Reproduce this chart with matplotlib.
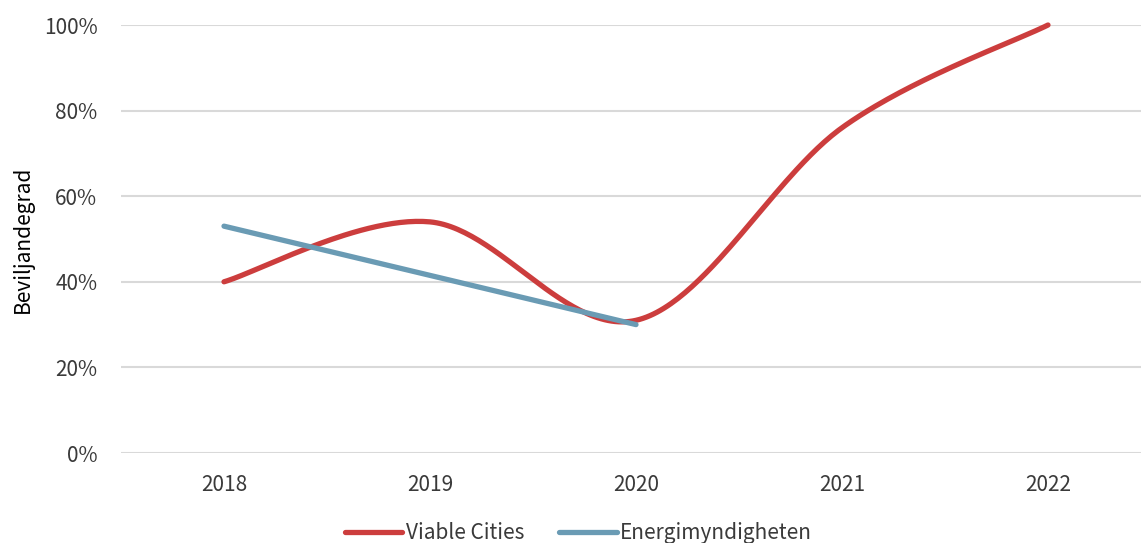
import numpy as np
import matplotlib.pyplot as plt
from matplotlib.ticker import PercentFormatter

plt.rcParams.update({
    "font.family": ["Noto Sans CJK JP", "DejaVu Sans"],
    "font.size": 15,
    "text.color": "#3A3A3A",
    "xtick.color": "#3A3A3A",
    "ytick.color": "#3A3A3A",
})

years = ["2018", "2019", "2020", "2021", "2022"]
viable_cities = [40, 54, 31, 76, 100]
energimyndigheten = [53, 41.5, 30]

red  = "#CC3D3D"
blue = "#6A9BB4"
lw   = 3.8


def smooth(xs, ys, n=60):
    """Excel-style smoothed line: Catmull-Rom Bezier through the points."""
    p = np.column_stack([xs, ys]).astype(float)
    ext = np.vstack([p[0], p, p[-1]])
    t = np.linspace(0, 1, n)[:, None]
    out = []
    for i in range(len(p) - 1):
        p0, p1, p2, p3 = ext[i], ext[i + 1], ext[i + 2], ext[i + 3]
        c1 = p1 + (p2 - p0) / 6
        c2 = p2 - (p3 - p1) / 6
        seg = ((1 - t) ** 3) * p1 + 3 * ((1 - t) ** 2) * t * c1 + 3 * (1 - t) * t ** 2 * c2 + t ** 3 * p2
        out.append(seg if i == 0 else seg[1:])
    out = np.vstack(out)
    return out[:, 0], out[:, 1]


fig = plt.figure(figsize=(11.41, 5.43), dpi=100)
ax = fig.add_axes([121 / 1141, 1 - 453 / 543, 1 - 121 / 1141, (453 - 25) / 543])

x_vc, y_vc = smooth(np.arange(len(viable_cities)), viable_cities)
x_em, y_em = smooth(np.arange(len(energimyndigheten)), energimyndigheten)

ax.plot(x_vc, y_vc, color=red, lw=lw, solid_capstyle="round", clip_on=False, label="Viable Cities", zorder=3)
ax.plot(x_em, y_em, color=blue, lw=lw, solid_capstyle="round", clip_on=False, label="Energimyndigheten", zorder=4)

ax.set_xlim(-0.5, (1141 - 224) / 206)
ax.set_ylim(0, 100)
ax.set_xticks(range(len(years)))
ax.set_xticklabels(years)
ax.set_yticks(np.arange(0, 101, 20))
ax.yaxis.set_major_formatter(PercentFormatter(decimals=0))
ax.tick_params(axis="both", length=0)
ax.tick_params(axis="y", pad=17)
ax.tick_params(axis="x", pad=15)

for s in ax.spines.values():
    s.set_visible(False)
ax.grid(axis="y", color="#D9D9D9", lw=1.5)
ax.set_axisbelow(True)

ax.set_ylabel("Beviljandegrad")
ax.yaxis.set_label_coords(-87 / 1020, 0.5)

fig.legend(loc="center", bbox_to_anchor=(0.507, 0.018), ncol=2, frameon=False,
           handlelength=2.75, handletextpad=0.15, columnspacing=1.7, fontsize=15)

fig.savefig("out.png", dpi=100)
